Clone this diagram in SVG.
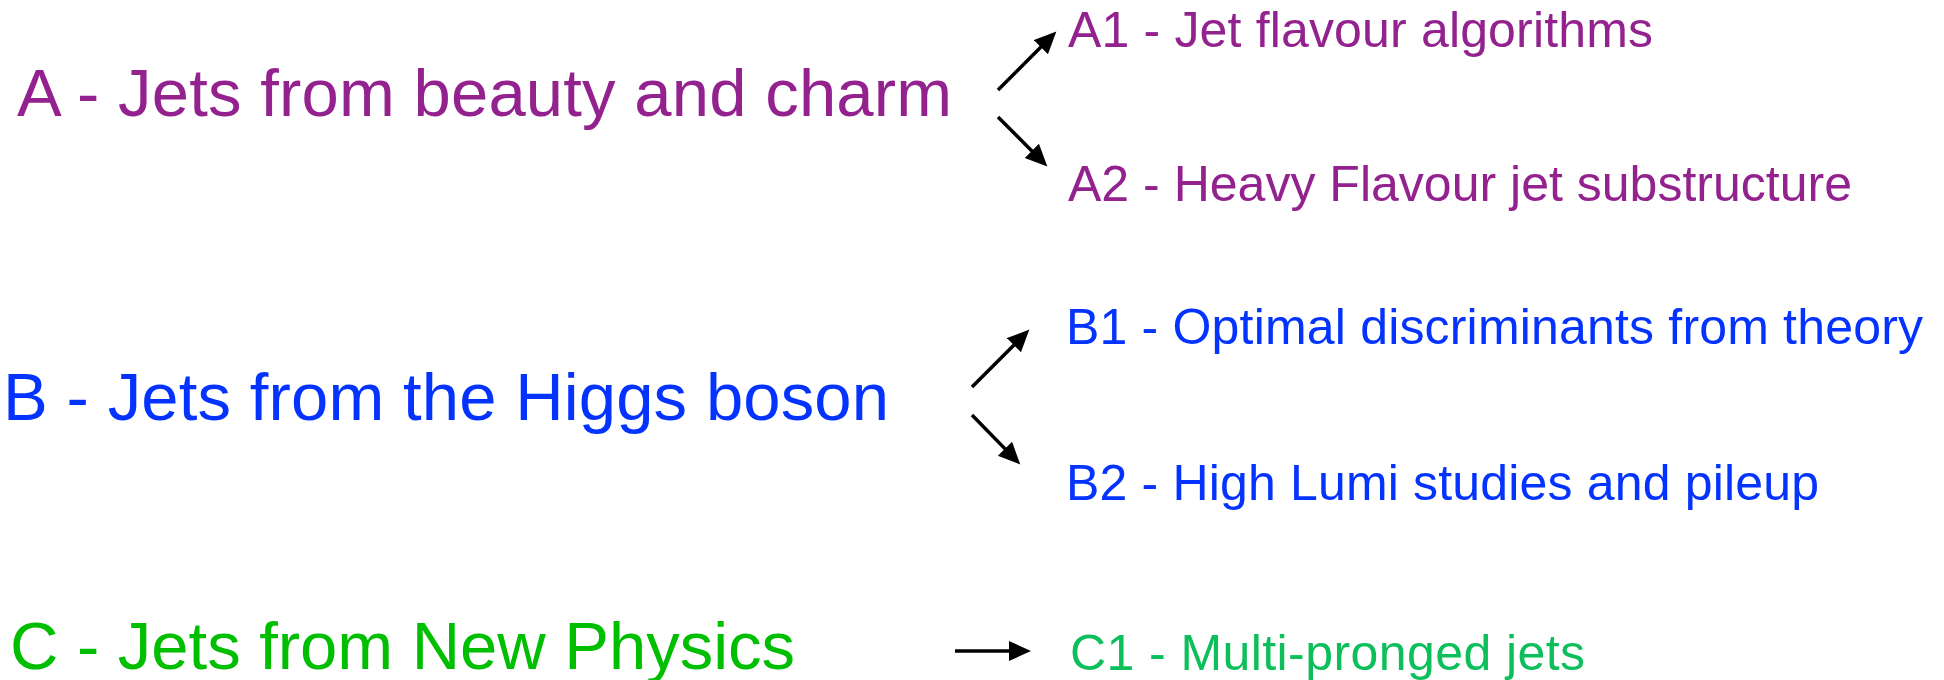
<svg xmlns="http://www.w3.org/2000/svg" width="1944" height="680" viewBox="0 0 1944 680">
  <style>
    text { font-family: "Liberation Sans", Arial, "Noto Sans", sans-serif; }
    .main { font-size: 67px; }
    .sub { font-size: 50px; }
    .a { fill: #93228f; }
    .b { fill: #0433ff; }
    .c { fill: #00bf00; }
    .c1 { fill: #0cbf5a; }
    .arrow { stroke: #000; stroke-width: 3.5; fill: none; marker-end: url(#head); }
  </style>
  <defs>
    <marker id="head" markerUnits="userSpaceOnUse" markerWidth="24" markerHeight="22" refX="10" refY="10" orient="auto" viewBox="0 0 24 22">
      <path d="M0,0 L22,10 L0,20 Z" fill="#000"/>
    </marker>
  </defs>
  <rect width="1944" height="680" fill="#fff"/>

  <g id="nodeA"><text class="main a" x="17" y="116" textLength="935" lengthAdjust="spacing">A - Jets from beauty and charm</text></g>
  <g id="nodeA1"><text class="sub a" x="1068" y="47" textLength="585" lengthAdjust="spacing">A1 - Jet flavour algorithms</text></g>
  <g id="nodeA2"><text class="sub a" x="1068" y="201" textLength="784" lengthAdjust="spacing">A2 - Heavy Flavour jet substructure</text></g>

  <g id="nodeB"><text class="main b" x="3" y="420" textLength="886" lengthAdjust="spacing">B - Jets from the Higgs boson</text></g>
  <g id="nodeB1"><text class="sub b" x="1066" y="344" textLength="857" lengthAdjust="spacing">B1 - Optimal discriminants from theory</text></g>
  <g id="nodeB2"><text class="sub b" x="1066" y="500" textLength="753" lengthAdjust="spacing">B2 - High Lumi studies and pileup</text></g>

  <g id="nodeC"><text class="main c" x="10" y="669" textLength="785" lengthAdjust="spacing">C - Jets from New Physics</text></g>
  <g id="nodeC1"><text class="sub c1" x="1070" y="670" textLength="515" lengthAdjust="spacing">C1 - Multi-pronged jets</text></g>

  <g id="connectors">
    <line class="arrow" x1="998" y1="90" x2="1047.9" y2="40.1"/>
    <line class="arrow" x1="998" y1="117" x2="1038.9" y2="157.9"/>
    <line class="arrow" x1="972" y1="387" x2="1020.9" y2="338.1"/>
    <line class="arrow" x1="972" y1="415" x2="1011.9" y2="455.9"/>
    <line class="arrow" x1="955" y1="651" x2="1019" y2="651"/>
  </g>
</svg>
